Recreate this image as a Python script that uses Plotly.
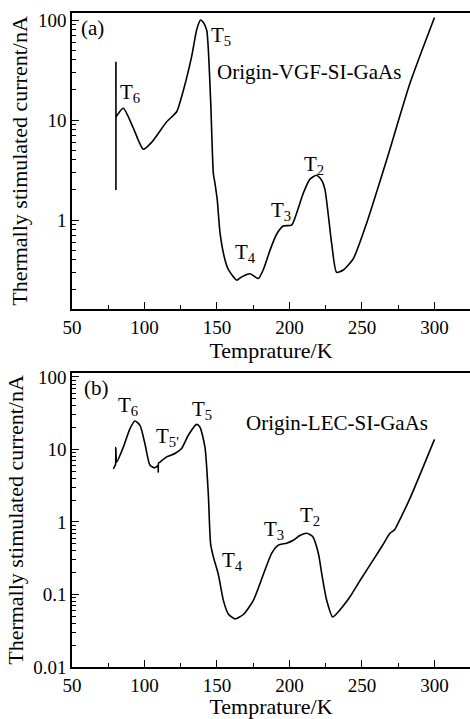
import plotly.graph_objects as go

# Panel (a): Origin-VGF-SI-GaAs
temp_a = [80.3, 80.3, 80.3, 80.5, 85.4, 92, 99.2, 105, 115.3, 122.2, 125.6, 132.5, 136, 138.7, 140.5, 142.9,
          145.6, 147.5, 148.6, 150.2, 152.1, 155.5, 157.8, 163.6, 167, 172.8, 178.5, 182, 186.6, 191.1, 195.7, 201.5,
          204.9, 209.5, 214, 218.7, 222.2, 224.5, 229.1, 232.5, 237.1, 244, 253.2, 267, 283.1, 300]
cur_a = [2.0, 38.3, 10.0, 10.8, 13.1, 8.5, 5.1, 6.0, 9.6, 12.1, 17.1, 43, 80, 100, 95, 79,
         15.8, 2.9, 2.33, 1.58, 0.74, 0.4, 0.32, 0.25, 0.27, 0.29, 0.26, 0.32, 0.5, 0.72, 0.87, 0.89,
         1.17, 1.85, 2.55, 2.8, 2.5, 2.0, 0.58, 0.30, 0.316, 0.41, 0.93, 3.98, 23.3, 106]

# Panel (b): Origin-LEC-SI-GaAs
temp_b = [78.5, 80.0, 80.2, 80.8, 85.4, 90, 93.4, 96.9, 100.3, 103.8, 107.2, 109.3, 109.5, 109.7, 110.7,
          115.3, 121, 125.6, 130.2, 135.9, 138.2, 141.7, 144, 145.6, 147.5, 150.9, 154.4, 157.8, 162.4,
          168.2, 175.1, 182, 187.7, 192.3, 198, 202.6, 207.2, 211.9, 216, 219.9, 222.5, 225.6, 229.8,
          235, 241.7, 249, 257.8, 264, 269.3, 272.5, 273.9, 283.1, 300]
cur_b = [5.4, 6.2, 10.6, 6.7, 10.8, 19.4, 24.7, 21.5, 12, 6.05, 5.6, 6.0, 4.9, 6.5, 6.7,
         7.9, 8.8, 10.3, 15.7, 22.2, 20.4, 10.8, 2.46, 0.5, 0.33, 0.19, 0.083, 0.054, 0.046,
         0.053, 0.083, 0.19, 0.37, 0.48, 0.51, 0.56, 0.65, 0.70, 0.63, 0.37, 0.18, 0.084, 0.049,
         0.062, 0.093, 0.16, 0.30, 0.47, 0.70, 0.78, 0.88, 2.12, 13.8]

x_ticks = [50, 100, 150, 200, 250, 300]
y_ticks_a = [1, 10, 100]
y_ticks_b = [0.01, 0.1, 1, 10, 100]

FONT = "Liberation Serif"

fig = go.Figure()
fig.add_trace(go.Scatter(x=temp_a, y=cur_a, mode="lines", line=dict(color="black", width=1.6, shape="spline", smoothing=0.6),
                         xaxis="x", yaxis="y", showlegend=False, hoverinfo="skip"))
fig.add_trace(go.Scatter(x=temp_b, y=cur_b, mode="lines", line=dict(color="black", width=1.6, shape="spline", smoothing=0.6),
                         xaxis="x2", yaxis="y2", showlegend=False, hoverinfo="skip"))

minor_log_a = [m * 10 ** e for e in (-1, 0, 1) for m in range(2, 10)]
minor_log_b = [m * 10 ** e for e in (-2, -1, 0, 1) for m in range(2, 10)]

axis_common = dict(showline=True, linecolor="black", linewidth=1.5, ticks="inside",
                   ticklen=7, tickwidth=1.2, tickcolor="black", showgrid=False, zeroline=False,
                   automargin=False,
                   tickfont=dict(family=FONT, size=19, color="black"))

title_font = dict(family=FONT, size=22, color="black")

xax = dict(axis_common, mirror=True, range=[50, 324.5], tickvals=x_ticks, domain=[72 / 470, 1.0],
           minor=dict(dtick=25, tick0=50, ticks="inside", ticklen=4, tickcolor="black", showgrid=False),
           title=dict(text="Temprature/K", font=title_font, standoff=2))

ytitle = dict(text="Thermally stimulated current/nA", font=title_font, standoff=4)

fig.update_layout(
    width=470, height=719, margin=dict(l=0, r=0, t=0, b=0),
    paper_bgcolor="white", plot_bgcolor="white",
    xaxis=dict(xax, anchor="y"),
    xaxis2=dict(xax, anchor="y2"),
    yaxis=dict(axis_common, mirror=False, type="log", range=[-0.89, 2.07], tickvals=y_ticks_a, ticktext=["1", "10", "100"],
               domain=[1 - 309 / 719, 1 - 13 / 719], anchor="x",
               minor=dict(tickvals=minor_log_a, ticks="inside", ticklen=4, tickcolor="black", showgrid=False),
               title=ytitle),
    yaxis2=dict(axis_common, mirror=False, type="log", range=[-2.0, 2.055], tickvals=y_ticks_b, ticktext=["0.01", "0.1", "1", "10", "100"],
                domain=[1 - 667 / 719, 1 - 373 / 719], anchor="x2",
                minor=dict(tickvals=minor_log_b, ticks="inside", ticklen=4, tickcolor="black", showgrid=False),
                title=ytitle),
)

def ann(text, x, y, xref, yref, size=21, xanchor="center"):
    fig.add_annotation(text=text, x=x, y=y, xref=xref, yref=yref, showarrow=False,
                       font=dict(family=FONT, size=size, color="black"), xanchor=xanchor)

# panel a labels (y in log10 units)
ann("(a)", 54.8, 1.92, "x", "y", xanchor="left")
ann("T<sub>5</sub>", 152.8, 1.84, "x", "y")
ann("Origin-VGF-SI-GaAs", 213.4, 1.48, "x", "y")
ann("T<sub>6</sub>", 90, 1.27, "x", "y")
ann("T<sub>4</sub>", 170, -0.33, "x", "y")
ann("T<sub>3</sub>", 194, 0.09, "x", "y")
ann("T<sub>2</sub>", 217, 0.55, "x", "y")

# panel b labels
ann("(b)", 56.9, 1.85, "x2", "y2", xanchor="left")
ann("T<sub>6</sub>", 88.6, 1.60, "x2", "y2")
ann("T<sub>5'</sub>", 116, 1.17, "x2", "y2")
ann("T<sub>5</sub>", 139.7, 1.545, "x2", "y2")
ann("Origin-LEC-SI-GaAs", 233, 1.366, "x2", "y2")
ann("T<sub>4</sub>", 160.6, -0.54, "x2", "y2")
ann("T<sub>3</sub>", 189.3, -0.11, "x2", "y2")
ann("T<sub>2</sub>", 214, 0.083, "x2", "y2")

fig.write_html("out.html", config={"displayModeBar": False},
               post_script="document.body.style.margin='0';document.body.style.overflow='hidden';")
